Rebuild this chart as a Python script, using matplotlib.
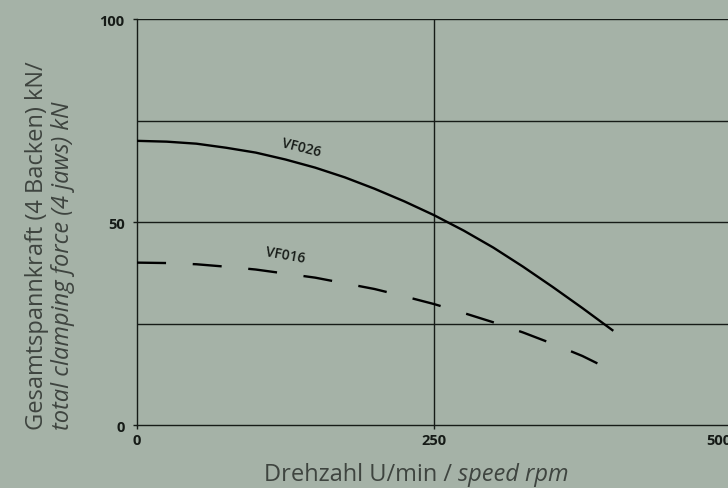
import numpy as np
import matplotlib.pyplot as plt

# clamping force vs speed
speed_vf026 = [0, 25, 50, 75, 100, 125, 150, 175, 200, 225, 250, 275, 300,
               325, 350, 375, 401]
force_vf026 = [70.0, 69.8, 69.3, 68.3, 67.1, 65.4, 63.4, 61.0, 58.2, 55.1,
               51.7, 47.9, 43.7, 39.0, 34.0, 28.8, 23.2]

speed_vf016 = [0, 25, 50, 75, 100, 125, 150, 175, 200, 225, 250, 275, 300,
               325, 350, 375, 393]
force_vf016 = [40.0, 39.9, 39.6, 39.0, 38.3, 37.3, 36.3, 34.9, 33.5, 31.7,
               29.8, 27.6, 25.3, 22.8, 20.0, 17.0, 14.4]

x_ticks = [0, 250, 500]
y_ticks = [0, 50, 100]
y_grid = [25, 50, 75, 100]

bg = "#a5b2a7"
ink = "#161b17"
text_col = "#3e443f"

plt.rcParams['font.family'] = ['Open Sans', 'DejaVu Sans']

fig = plt.figure(figsize=(7.28, 4.89), dpi=100, facecolor=bg)
ax = fig.add_axes([0.1882, 0.1288, 0.8158, 0.8302])
ax.set_facecolor(bg)

ax.set_xlim(0, 500)
ax.set_ylim(0, 100)

for y in y_grid:
    ax.axhline(y, color=ink, lw=1.0, zorder=1)
ax.axvline(250, color=ink, lw=1.0, zorder=1)

ax.plot(speed_vf026, force_vf026, color="black", lw=1.7, zorder=3,
        solid_capstyle="butt")
ax.plot(speed_vf016, force_vf016, color="black", lw=1.7,
        linestyle=(0, (12.3, 11.3)), dash_capstyle="butt", zorder=3)

ax.text(138, 68.4, "VF026", rotation=-14, ha="center", va="center",
        fontsize=10, fontweight="semibold", color=ink)
ax.text(125, 42.1, "VF016", rotation=-10, ha="center", va="center",
        fontsize=10, fontweight="semibold", color=ink)

for s in ["top", "right"]:
    ax.spines[s].set_visible(False)
for s in ["left", "bottom"]:
    ax.spines[s].set_color(ink)
    ax.spines[s].set_linewidth(1.0)

ax.set_xticks(x_ticks)
ax.set_yticks(y_ticks)
ax.tick_params(colors=ink, length=3, width=1, labelsize=10.5)
ax.tick_params(axis="y", pad=6)
ax.tick_params(axis="x", pad=3)
for lab in ax.get_xticklabels() + ax.get_yticklabels():
    lab.set_fontweight("bold")
ax.get_xticklabels()[-1].set_horizontalalignment("right")

# x axis title: upright part followed by italic part
renderer = fig.canvas.get_renderer()
t1 = fig.text(264 / 728, 0.0164, "Drehzahl U/min / ", ha="left",
              va="baseline", fontsize=17, color=text_col)
ext = t1.get_window_extent(renderer)
fig.text(ext.x1 / fig.bbox.width, 0.0164, "speed rpm", ha="left",
         va="baseline", fontsize=17, style="italic", color=text_col)

fig.text(0.0508, 0.1207, "Gesamtspannkraft (4 Backen) kN/", rotation=90,
         ha="center", va="bottom", fontsize=17, color=text_col)
fig.text(0.0865, 0.1207, "total clamping force (4 jaws) kN", rotation=90,
         ha="center", va="bottom", fontsize=17, style="italic",
         color=text_col)

fig.savefig("out.png", dpi=100, facecolor=bg)
